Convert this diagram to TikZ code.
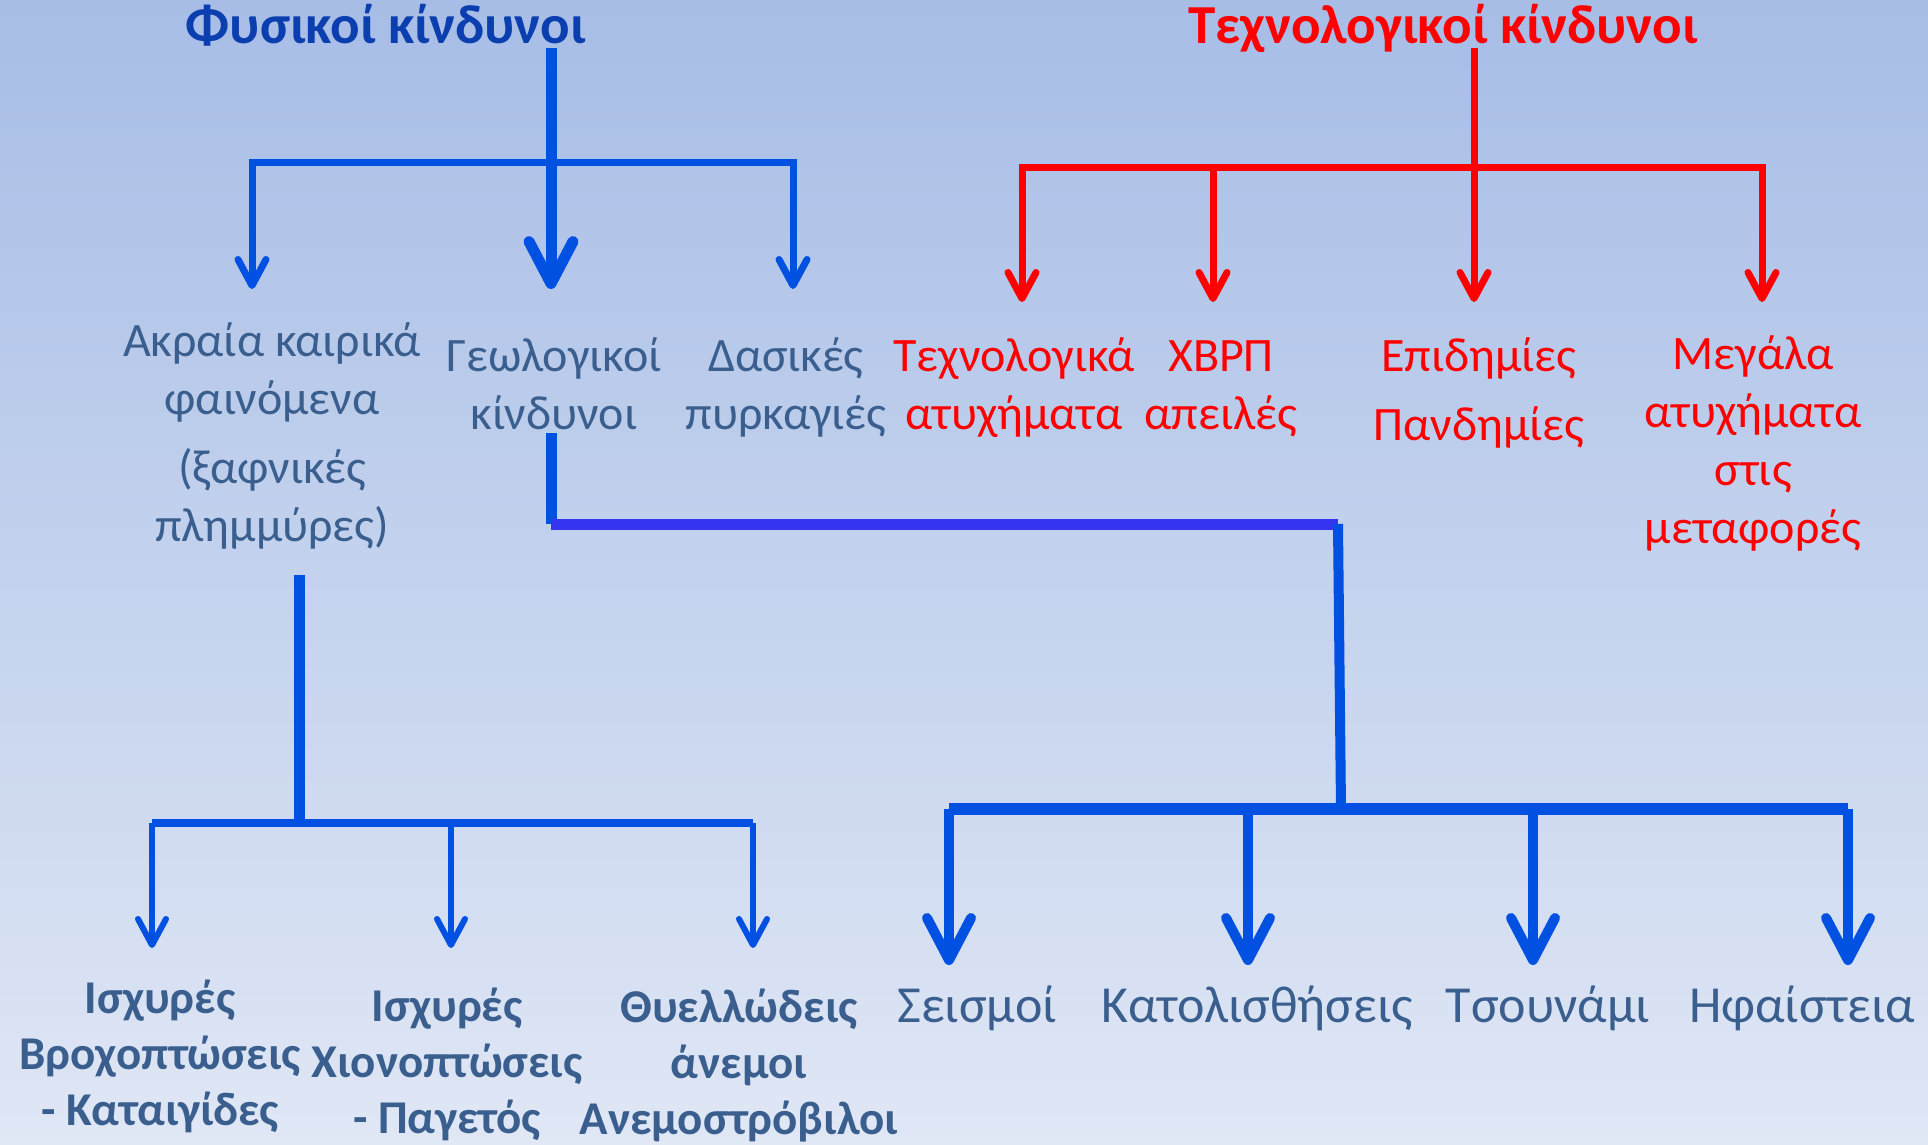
\documentclass[tikz,border=0pt]{standalone}
\usepackage{fontspec}
\setmainfont{Carlito}
\usetikzlibrary{arrows.meta}

\definecolor{lineblue}{HTML}{0050E2}
\definecolor{barblue}{HTML}{3535F0}
\definecolor{titleblue}{HTML}{0B3FAF}
\definecolor{labelblue}{HTML}{3A5F8E}
\definecolor{bgtop}{HTML}{A7BDE6}
\definecolor{bgbot}{HTML}{E0E7F5}

\tikzset{
  shead/.tip={Straight Barb[length=13pt,width=14pt,round]},
  bhead/.tip={Straight Barb[length=21pt,width=22pt,round]},
}

\begin{document}
\begin{tikzpicture}[x=0.5pt,y=-0.5pt,
    lbl/.style={align=center,anchor=base,inner sep=0pt,text=labelblue,
      font=\fontsize{24}{29}\selectfont},
    rlbl/.style={lbl,text=red},
    blbl/.style={lbl,font=\bfseries\fontsize{23.5}{28}\selectfont},
    biglbl/.style={lbl,font=\fontsize{26}{31}\selectfont},
    headline/.style={anchor=base,inner sep=0pt,font=\bfseries\fontsize{27.5}{33}\selectfont},
    trunk/.style={draw=lineblue,line width=5.5pt},
    branch/.style={draw=lineblue,line width=3.5pt},
    twig/.style={draw=lineblue,line width=3pt},
    rtrunk/.style={draw=red,line width=3.5pt}]

  % background
  \fill[top color=bgtop,bottom color=bgbot] (0,0) rectangle (1928,1145);
  \useasboundingbox (0,0) rectangle (1928,1145);

  % titles
  \node[headline,text=titleblue] (phys) at (386,44) {Φυσικοί κίνδυνοι};
  \node[headline,text=red] (tech) at (1443,44) {Τεχνολογικοί κίνδυνοι};

  % first row (placed at the baseline of the last line)
  \node[lbl] (akr) at (272,541) {Ακραία καιρικά\\φαινόμενα\\[5.5pt](ξαφνικές\\πλημμύρες)};
  \node[lbl] (geo) at (554,429) {Γεωλογικοί\\κίνδυνοι};
  \node[lbl] (das) at (786,429) {Δασικές\\πυρκαγιές};
  \node[rlbl] (tatyx) at (1014,429) {Τεχνολογικά\\ατυχήματα};
  \node[rlbl] (xbrp) at (1221,429) {ΧΒΡΠ\\απειλές};
  \node[rlbl] (epid) at (1479,440) {Επιδημίες\\[5.5pt]Πανδημίες};
  \node[rlbl] (meg) at (1753,543) {Μεγάλα\\ατυχήματα\\στις\\μεταφορές};

  % second row
  \node[blbl] (broxi) at (160,1125) {Ισχυρές\\Βροχοπτώσεις\\- Καταιγίδες};
  \node[blbl] (xioni) at (447,1133) {Ισχυρές\\Χιονοπτώσεις\\- Παγετός};
  \node[blbl] (anemoi) at (739,1134) {Θυελλώδεις\\άνεμοι\\Ανεμοστρόβιλοι};
  \node[biglbl] (seism) at (977,1022) {Σεισμοί};
  \node[biglbl] (katol) at (1257,1022) {Κατολισθήσεις};
  \node[biglbl] (tsoun) at (1548,1022) {Τσουνάμι};
  \node[biglbl] (hfai) at (1802,1022) {Ηφαίστεια};

  % junctions and arrow tips
  \coordinate (ptop) at (551,48);
  \coordinate (pj) at (551,163);
  \coordinate (akrtip) at (252,289);
  \coordinate (geotip) at (551,289);
  \coordinate (dastip) at (793,289);

  \coordinate (ttop) at (1474,48);
  \coordinate (tj) at (1474,168);
  \coordinate (tatyxtip) at (1022,302);
  \coordinate (xbrptip) at (1213,302);
  \coordinate (epidtip) at (1474,302);
  \coordinate (megtip) at (1762,302);

  \coordinate (gbot) at (551,433);
  \coordinate (gmid) at (551,524);
  \coordinate (gcorner) at (1338,524);
  \coordinate (sj) at (1341,809);
  \coordinate (sl) at (949,809);
  \coordinate (sr) at (1848,809);
  \coordinate (seismtip) at (949,965);
  \coordinate (katoltip) at (1248,965);
  \coordinate (tsountip) at (1533,965);
  \coordinate (hfaitip) at (1848,965);

  \coordinate (atop) at (299,575);
  \coordinate (aj) at (299,823);
  \coordinate (al) at (152,823);
  \coordinate (ar) at (753,823);
  \coordinate (broxitip) at (152,948);
  \coordinate (xionitip) at (451,948);
  \coordinate (anemoitip) at (753,948);

  % natural hazards
  \draw[branch,shead-shead] (akrtip) |- (pj) -| (dastip);
  \draw[trunk,-bhead] (ptop) -- (geotip);

  % technological hazards
  \draw[rtrunk,shead-shead] (tatyxtip) |- (tj) -| (megtip);
  \draw[rtrunk,-shead] (ttop) -- (epidtip);
  \draw[rtrunk,-shead] (xbrptip |- tj) -- (xbrptip);

  % geological hazards
  \draw[trunk] (gbot) -- (gmid);
  \draw[trunk,draw=barblue] (gmid) -- (gcorner);
  \draw[trunk,line width=5pt] (gcorner) -- (sj);
  \draw[trunk,line width=6pt] (sl) -- (sr);
  \foreach \t in {seismtip,katoltip,tsountip,hfaitip}
    \draw[trunk,line width=5pt,-bhead] (\t |- sl) -- (\t);

  % weather hazards
  \draw[trunk] (atop) -- (aj);
  \draw[twig,line width=4pt] (al) -- (ar);
  \foreach \t in {broxitip,xionitip,anemoitip}
    \draw[twig,-shead] (\t |- al) -- (\t);

\end{tikzpicture}
\end{document}
